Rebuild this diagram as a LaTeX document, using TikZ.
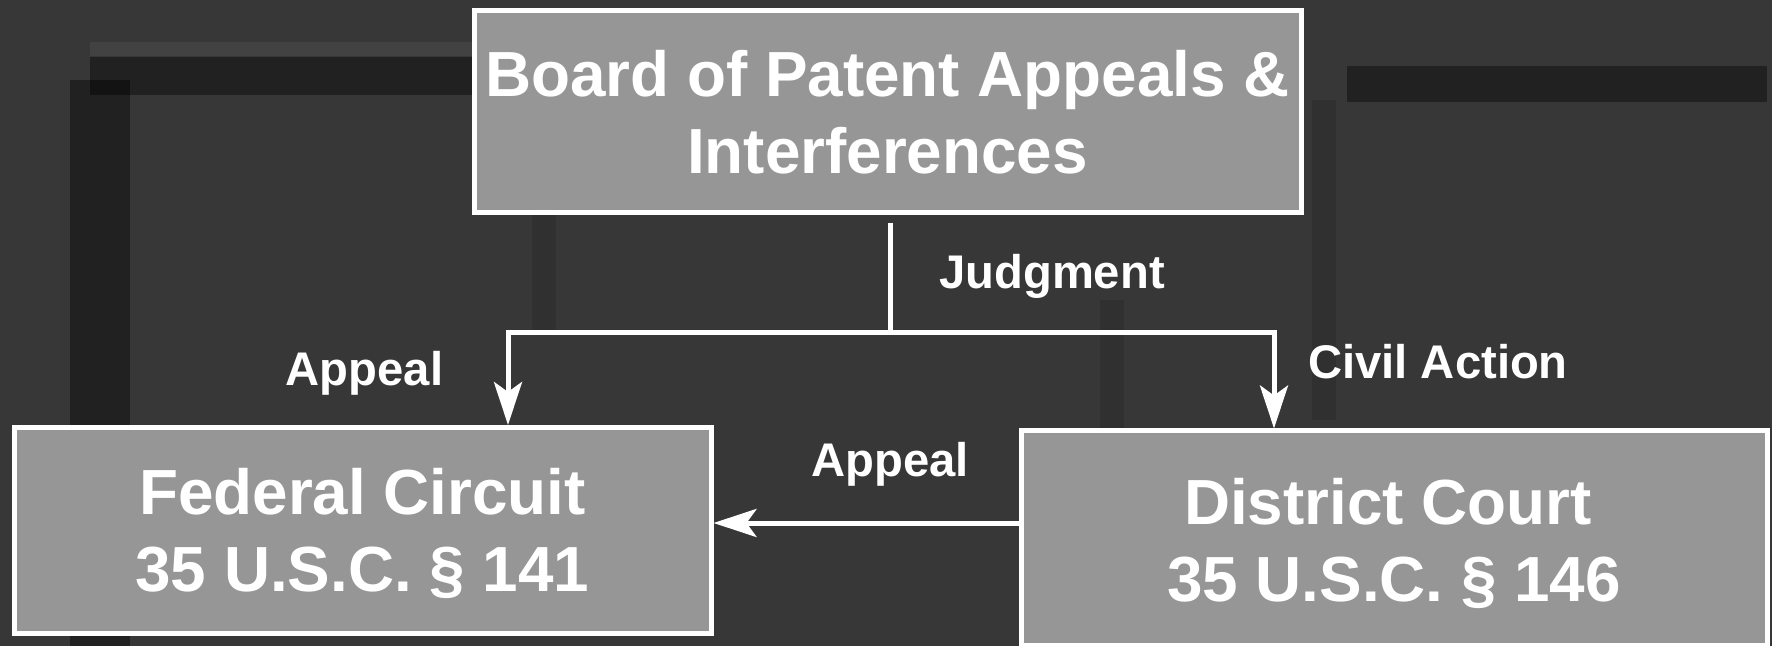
\documentclass[tikz,border=0pt]{standalone}
\usepackage{fontspec}
\setmainfont{Liberation Sans}
\usetikzlibrary{arrows.meta}
\definecolor{bgc}{HTML}{373737}
\definecolor{boxgray}{HTML}{969696}
\tikzset{
  box/.style={draw=white, fill=boxgray, line width=2.5pt, inner sep=0pt},
  boxtext/.style={anchor=base, text=white, inner sep=0pt, font=\bfseries\fontsize{31.9}{38}\selectfont},
  lbl/.style={anchor=base, text=white, inner sep=0pt, font=\bfseries\fontsize{23.6}{28}\selectfont},
  conn/.style={draw=white, line width=2.5pt},
  arr/.style={conn, -{Stealth[length=21.5pt,width=14pt,inset=5pt]}},
  band/.style={fill=black, opacity=0.4},
  fband/.style={fill=black, opacity=0.12},
}
\begin{document}
\begin{tikzpicture}[x=0.5pt,y=-0.5pt]
\useasboundingbox (0,0) rectangle (1772,646);
% background
\fill[bgc] (0,0) rectangle (1772,646);
\fill[white, opacity=0.06] (90,42) rectangle (473,56);
\fill[band] (90,57) rectangle (473,95);
\fill[band] (70,80) rectangle (130,646);
\fill[band] (1347,66) rectangle (1767,102);
\fill[fband] (1312,100) rectangle (1336,420);
\fill[fband] (532,210) rectangle (556,330);
\fill[fband] (1100,300) rectangle (1124,430);

% boxes
\node[box, minimum width=413.5pt, minimum height=100.75pt] (bpai) at (887.5,111.75) {};
\node[box, minimum width=348.5pt, minimum height=102.75pt] (fc) at (362.5,530.25) {};
\node[box, minimum width=373pt, minimum height=107pt] (dc) at (1394,538) {};

% box texts
\node[boxtext] (t1) at (887.5,96.7) {Board of Patent Appeals \&};
\node[boxtext] (t2) at (887.5,173.6) {Interferences};
\node[boxtext] (t3) at (362.5,515) {Federal Circuit};
\node[boxtext] (t4) at (362.5,591) {35 U.S.C. § 141};
\node[boxtext] (t5) at (1388,524.5) {District Court};
\node[boxtext] (t6) at (1394,601) {35 U.S.C. § 146};

% connectors
\coordinate (j) at (890.7,333);
\coordinate (lc) at (508,333);
\coordinate (rc) at (1274,333);
\coordinate (ly) at (0,523);
\draw[conn, shorten <=4pt] (bpai.south -| j) -- (j);
\draw[arr] (j) -| (lc |- fc.north);
\draw[arr] (j) -| (rc |- dc.north);
\draw[arr] (dc.west |- ly) -- (fc.east |- ly);

% labels
\node[lbl] (judg) at (1052,289) {Judgment};
\node[lbl] (app1) at (364.5,386) {Appeal};
\node[lbl] (civ) at (1438,379) {Civil Action};
\node[lbl] (app2) at (890,476) {Appeal};
\end{tikzpicture}
\end{document}
